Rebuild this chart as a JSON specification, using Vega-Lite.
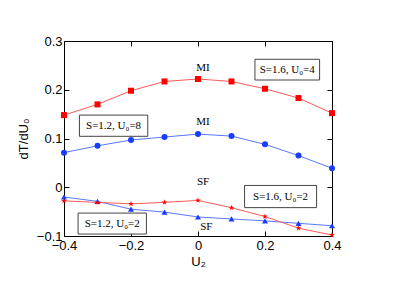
{
  "$schema": "https://vega.github.io/schema/vega-lite/v6.json",
  "width": 268,
  "height": 195,
  "autosize": "none",
  "padding": {"left": 64, "top": 41, "right": 83, "bottom": 56},
  "background": "white",
  "config": {
    "view": {"stroke": "black", "strokeWidth": 1},
    "font": "Liberation Sans",
    "axis": {"grid": false, "domain": false, "labelFlush": false, "labelOverlap": false, "tickColor": "black", "labelColor": "black", "titleColor": "black", "labelFont": "Liberation Sans", "titleFont": "Liberation Sans", "labelFontSize": 13, "titleFontSize": 13, "titleFontWeight": "normal"}
  },
  "datasets": {
    "curves": [
      {"series": "S=1.6, U0=4", "U2": -0.4, "v": 0.148},
      {"series": "S=1.6, U0=4", "U2": -0.3, "v": 0.170},
      {"series": "S=1.6, U0=4", "U2": -0.2, "v": 0.198},
      {"series": "S=1.6, U0=4", "U2": -0.1, "v": 0.217},
      {"series": "S=1.6, U0=4", "U2": 0.0, "v": 0.222},
      {"series": "S=1.6, U0=4", "U2": 0.1, "v": 0.217},
      {"series": "S=1.6, U0=4", "U2": 0.2, "v": 0.202},
      {"series": "S=1.6, U0=4", "U2": 0.3, "v": 0.183},
      {"series": "S=1.6, U0=4", "U2": 0.4, "v": 0.152},
      {"series": "S=1.2, U0=8", "U2": -0.4, "v": 0.071},
      {"series": "S=1.2, U0=8", "U2": -0.3, "v": 0.085},
      {"series": "S=1.2, U0=8", "U2": -0.2, "v": 0.097},
      {"series": "S=1.2, U0=8", "U2": -0.1, "v": 0.103},
      {"series": "S=1.2, U0=8", "U2": 0.0, "v": 0.109},
      {"series": "S=1.2, U0=8", "U2": 0.1, "v": 0.105},
      {"series": "S=1.2, U0=8", "U2": 0.2, "v": 0.088},
      {"series": "S=1.2, U0=8", "U2": 0.3, "v": 0.065},
      {"series": "S=1.2, U0=8", "U2": 0.4, "v": 0.039},
      {"series": "S=1.2, U0=2", "U2": -0.4, "v": -0.020},
      {"series": "S=1.2, U0=2", "U2": -0.3, "v": -0.029},
      {"series": "S=1.2, U0=2", "U2": -0.2, "v": -0.045},
      {"series": "S=1.2, U0=2", "U2": -0.1, "v": -0.051},
      {"series": "S=1.2, U0=2", "U2": 0.0, "v": -0.061},
      {"series": "S=1.2, U0=2", "U2": 0.1, "v": -0.065},
      {"series": "S=1.2, U0=2", "U2": 0.2, "v": -0.069},
      {"series": "S=1.2, U0=2", "U2": 0.3, "v": -0.074},
      {"series": "S=1.2, U0=2", "U2": 0.4, "v": -0.079},
      {"series": "S=1.6, U0=2", "U2": -0.4, "v": -0.028},
      {"series": "S=1.6, U0=2", "U2": -0.3, "v": -0.031},
      {"series": "S=1.6, U0=2", "U2": -0.2, "v": -0.034},
      {"series": "S=1.6, U0=2", "U2": -0.1, "v": -0.031},
      {"series": "S=1.6, U0=2", "U2": 0.0, "v": -0.027},
      {"series": "S=1.6, U0=2", "U2": 0.1, "v": -0.042},
      {"series": "S=1.6, U0=2", "U2": 0.2, "v": -0.060},
      {"series": "S=1.6, U0=2", "U2": 0.3, "v": -0.084},
      {"series": "S=1.6, U0=2", "U2": 0.4, "v": -0.098}
    ],
    "boxes": [
      {"label": "S=1.6, U₀=4", "x1": 0.170, "x2": 0.363, "y1": 0.2625, "y2": 0.220},
      {"label": "S=1.2, U₀=8", "x1": -0.354, "x2": -0.150, "y1": 0.148, "y2": 0.1045},
      {"label": "S=1.2, U₀=2", "x1": -0.358, "x2": -0.154, "y1": -0.053, "y2": -0.096},
      {"label": "S=1.6, U₀=2", "x1": 0.139, "x2": 0.354, "y1": 0.0037, "y2": -0.0418}
    ],
    "phases": [
      {"label": "MI", "x": 0.015, "y": 0.245},
      {"label": "MI", "x": 0.015, "y": 0.134},
      {"label": "SF", "x": 0.015, "y": 0.011},
      {"label": "SF", "x": 0.025, "y": -0.081}
    ]
  },
  "resolve": {"axis": {"x": "independent", "y": "independent"}},
  "layer": [
    {
      "data": {"name": "curves"},
      "mark": {"type": "line", "strokeWidth": 1},
      "encoding": {
        "x": {"field": "U2", "type": "quantitative", "scale": {"domain": [-0.4, 0.4], "nice": false, "zero": false},
              "axis": {"orient": "bottom", "values": [-0.4, -0.2, 0, 0.2, 0.4], "format": ".1~f", "tickSize": -5, "labelPadding": 8, "title": "U₂", "titlePadding": 3}},
        "y": {"field": "v", "type": "quantitative", "scale": {"domain": [-0.1, 0.3], "nice": false, "zero": false},
              "axis": {"orient": "left", "values": [-0.1, 0, 0.1, 0.2, 0.3], "format": ".1~f", "tickSize": -5, "labelPadding": 7, "title": "dT/dU₀", "titlePadding": 6, "titleAngle": 270,
                       "encoding": {"title": {"update": {"angle": {"value": -90}, "dx": {"value": -17}}}}}},
        "stroke": {"field": "series", "type": "nominal", "legend": null,
                   "scale": {"domain": ["S=1.6, U0=4", "S=1.2, U0=8", "S=1.2, U0=2", "S=1.6, U0=2"], "range": ["#ff5a5a", "#5a78ff", "#5a78ff", "#ff5a5a"]}},
        "detail": {"field": "series"}
      }
    },
    {
      "data": {"name": "curves"},
      "mark": {"type": "point", "filled": true, "opacity": 1},
      "encoding": {
        "x": {"field": "U2", "type": "quantitative", "axis": null},
        "y": {"field": "v", "type": "quantitative", "axis": null},
        "fill": {"field": "series", "type": "nominal", "legend": null,
                 "scale": {"domain": ["S=1.6, U0=4", "S=1.2, U0=8", "S=1.2, U0=2", "S=1.6, U0=2"], "range": ["#ff0000", "#1a3cff", "#1a3cff", "#ff0000"]}},
        "shape": {"field": "series", "type": "nominal", "legend": null,
                  "scale": {"domain": ["S=1.6, U0=4", "S=1.2, U0=8", "S=1.2, U0=2", "S=1.6, U0=2"],
                            "range": ["square", "circle", "triangle-up", "M0,-1L0.2245,-0.309L0.951,-0.309L0.3633,0.118L0.5878,0.809L0,0.382L-0.5878,0.809L-0.3633,0.118L-0.951,-0.309L-0.2245,-0.309Z"]}},
        "size": {"field": "series", "type": "nominal", "legend": null,
                 "scale": {"domain": ["S=1.6, U0=4", "S=1.2, U0=8", "S=1.2, U0=2", "S=1.6, U0=2"], "range": [36, 36, 45, 50]}}
      }
    },
    {
      "data": {"name": "boxes"},
      "mark": {"type": "rect", "fill": "white", "stroke": "#444444", "strokeWidth": 1},
      "encoding": {
        "x": {"field": "x1", "type": "quantitative",
              "axis": {"orient": "top", "values": [-0.4, -0.2, 0, 0.2, 0.4], "labels": false, "tickSize": -5, "title": null}},
        "x2": {"field": "x2"},
        "y": {"field": "y1", "type": "quantitative",
              "axis": {"orient": "right", "values": [-0.1, 0, 0.1, 0.2, 0.3], "labels": false, "tickSize": -5, "title": null}},
        "y2": {"field": "y2"}
      }
    },
    {
      "data": {"name": "boxes"},
      "transform": [{"calculate": "(datum.x1 + datum.x2) / 2", "as": "xc"}, {"calculate": "(datum.y1 + datum.y2) / 2", "as": "yc"}],
      "mark": {"type": "text", "font": "Liberation Serif", "fontSize": 11, "color": "black", "align": "center", "baseline": "middle"},
      "encoding": {
        "x": {"field": "xc", "type": "quantitative", "axis": null},
        "y": {"field": "yc", "type": "quantitative", "axis": null},
        "text": {"field": "label"}
      }
    },
    {
      "data": {"name": "phases"},
      "mark": {"type": "text", "font": "Liberation Serif", "fontSize": 11, "color": "black", "align": "center", "baseline": "middle"},
      "encoding": {
        "x": {"field": "x", "type": "quantitative", "axis": null},
        "y": {"field": "y", "type": "quantitative", "axis": null},
        "text": {"field": "label"}
      }
    }
  ]
}
